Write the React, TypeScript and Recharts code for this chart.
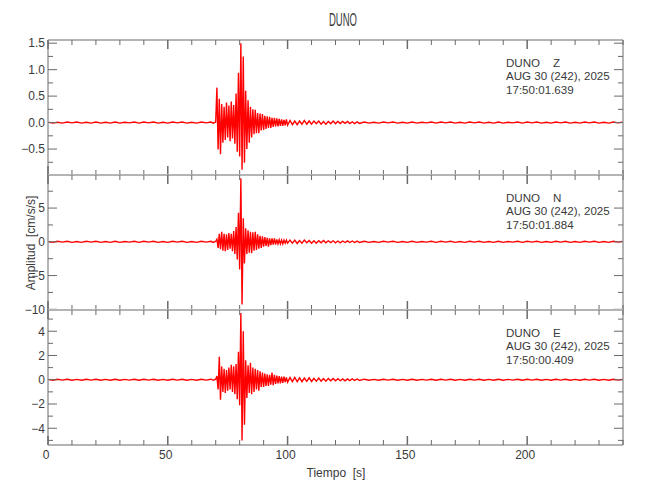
import { Line, LineChart, XAxis, YAxis } from "recharts";

// time base (s), denser around the arrivals
const tSec = [
  0, 2, 4, 6, 8, 10, 12, 14, 16, 18,
  20, 22, 24, 26, 28, 30, 32, 34, 36, 38,
  40, 42, 44, 46, 48, 50, 52, 54, 56, 58,
  60, 62, 64, 66, 68,
  69, 70,
  70.5, 71, 71.5, 72, 72.5, 73, 73.5, 74, 74.5, 75,
  75.5, 76, 76.5, 77, 77.5, 78, 78.5, 79, 79.5, 80,
  80.5, 81, 81.5, 82, 82.5, 83, 83.5, 84, 84.5, 85,
  85.5, 86, 86.5, 87, 87.5, 88, 88.5, 89, 89.5, 90,
  90.5, 91, 91.5, 92, 92.5, 93, 93.5, 94, 94.5, 95,
  95.5, 96, 96.5, 97, 97.5, 98, 98.5, 99, 99.5, 100,
  101, 102, 103, 104, 105, 106, 107, 108, 109, 110,
  111, 112, 113, 114, 115, 116, 117, 118, 119, 120,
  121, 122, 123, 124, 125, 126, 127, 128, 129, 130,
  132, 134, 136, 138, 140, 142, 144, 146, 148, 150,
  152, 154, 156, 158, 160, 162, 164, 166, 168, 170,
  172, 174, 176, 178, 180, 182, 184, 186, 188, 190,
  192, 194, 196, 198, 200, 202, 204, 206, 208, 210,
  212, 214, 216, 218, 220, 222, 224, 226, 228, 230,
  232, 234, 236, 238, 240,
];

const zAmp = [
  0.01, -0.01, 0.005, -0.01, 0.01, -0.005, 0.01, -0.01, 0.005, -0.01,
  0.01, -0.01, 0.005, -0.01, 0.01, -0.01, 0.005, -0.005, 0.01, -0.01,
  0.01, -0.005, 0.01, -0.01, 0.005, -0.01, 0.01, -0.005, 0.01, -0.01,
  0.005, -0.01, 0.01, -0.005, 0.01,
  -0.01, 0.01,
  0.66, -0.51, 0.45, -0.6, 0.35, -0.38, 0.3, -0.33, 0.38, -0.28,
  0.32, -0.35, 0.4, -0.3, 0.33, -0.4, 0.55, -0.55, 0.94, -0.64,
  1.5, -0.89, 1.25, -0.76, 0.6, -0.5, 0.42, -0.38, 0.3, -0.28,
  0.25, -0.22, 0.24, -0.2, 0.18, -0.2, 0.17, -0.15, 0.16, -0.14,
  0.13, -0.12, 0.12, -0.1, 0.11, -0.1, 0.09, -0.08, 0.09, -0.07,
  0.08, -0.07, 0.07, -0.06, 0.06, -0.06, 0.05, -0.05, 0.06, -0.05,
  0.04, -0.04, 0.03, -0.04, 0.03, -0.03, 0.04, -0.03, 0.03, -0.03,
  0.03, -0.02, 0.03, -0.03, 0.02, -0.03, 0.02, -0.02, 0.03, -0.02,
  0.02, -0.02, 0.02, -0.015, 0.02, -0.02, 0.015, -0.02, 0.015, -0.015,
  0.01, -0.01, 0.005, -0.01, 0.01, -0.005, 0.01, -0.01, 0.005, -0.01,
  0.01, -0.01, 0.005, -0.005, 0.01, -0.01, 0.01, -0.005, 0.01, -0.01,
  0.005, -0.01, 0.01, -0.005, 0.01, -0.01, 0.005, -0.01, 0.01, -0.01,
  0.005, -0.005, 0.01, -0.01, 0.01, -0.005, 0.01, -0.01, 0.005, -0.01,
  0.01, -0.005, 0.01, -0.01, 0.005, -0.01, 0.01, -0.005, 0.01, -0.01,
  0.005, -0.01, 0.01, -0.005, 0.01,
];

const nAmp = [
  0.05, -0.08, 0.08, -0.05, 0.08, -0.08, 0.05, -0.08, 0.08, -0.05,
  0.08, -0.08, 0.05, -0.08, 0.08, -0.08, 0.05, -0.05, 0.08, -0.08,
  0.08, -0.05, 0.08, -0.08, 0.05, -0.08, 0.08, -0.05, 0.08, -0.08,
  0.05, -0.08, 0.08, -0.05, 0.08,
  -0.08, 0.08,
  0.4, -0.9, 1.2, -1.1, 1.5, -1.3, 1.2, -1.4, 1.1, -1.2,
  1.3, -1.0, 1.2, -1.4, 1.6, -1.8, 2.2, -2.6, 4.3, -4.1,
  9.4, -9.3, 3.5, -3.2, 2.0, -1.8, 1.7, -1.6, 1.5, -1.7,
  1.4, -1.3, 1.5, -1.2, 1.1, -1.0, 0.9, -0.9, 0.8, -0.7,
  0.7, -0.6, 0.6, -0.7, 0.5, -0.5, 0.5, -0.4, 0.5, -0.4,
  0.35, -0.3, 0.3, -0.3, 0.25, -0.3, 0.25, -0.2, 0.25, -0.2,
  0.25, -0.2, 0.25, -0.25, 0.2, -0.2, 0.25, -0.15, 0.2, -0.2,
  0.15, -0.2, 0.15, -0.15, 0.2, -0.15, 0.15, -0.12, 0.15, -0.15,
  0.12, -0.15, 0.12, -0.1, 0.15, -0.1, 0.12, -0.1, 0.1, -0.1,
  0.08, -0.08, 0.05, -0.08, 0.08, -0.05, 0.08, -0.08, 0.05, -0.08,
  0.08, -0.08, 0.05, -0.05, 0.08, -0.08, 0.08, -0.05, 0.08, -0.08,
  0.05, -0.08, 0.08, -0.05, 0.08, -0.08, 0.05, -0.08, 0.08, -0.08,
  0.05, -0.05, 0.08, -0.08, 0.08, -0.05, 0.08, -0.08, 0.05, -0.08,
  0.08, -0.05, 0.08, -0.08, 0.05, -0.08, 0.08, -0.05, 0.08, -0.08,
  0.05, -0.08, 0.08, -0.05, 0.08,
];

const eAmp = [
  0.03, -0.045, 0.045, -0.03, 0.045, -0.045, 0.03, -0.045, 0.045, -0.03,
  0.045, -0.045, 0.03, -0.045, 0.045, -0.045, 0.03, -0.03, 0.045, -0.045,
  0.045, -0.03, 0.045, -0.045, 0.03, -0.045, 0.045, -0.03, 0.045, -0.045,
  0.03, -0.045, 0.045, -0.03, 0.045,
  -0.045, 0.045,
  0.3, -0.8, 1.9, -1.65, 1.1, -1.0, 0.9, -1.1, 0.8, -0.9,
  1.0, -0.8, 1.24, -1.0, 1.1, -1.2, 1.3, -1.6, 2.3, -2.1,
  5.5, -5.0, 4.0, -3.7, 1.6, -1.5, 1.2, -1.1, 1.4, -1.2,
  1.0, -1.0, 0.9, -0.8, 0.8, -0.9, 0.7, -0.6, 0.6, -0.6,
  0.5, -0.5, 0.45, -0.5, 0.4, -0.4, 0.6, -0.45, 0.4, -0.35,
  0.35, -0.3, 0.3, -0.3, 0.25, -0.25, 0.25, -0.2, 0.2, -0.2,
  0.18, -0.16, 0.2, -0.15, 0.16, -0.16, 0.14, -0.13, 0.16, -0.14,
  0.12, -0.12, 0.14, -0.11, 0.1, -0.12, 0.11, -0.09, 0.1, -0.09,
  0.09, -0.08, 0.07, -0.09, 0.07, -0.07, 0.08, -0.06, 0.06, -0.06,
  0.045, -0.045, 0.03, -0.045, 0.045, -0.03, 0.045, -0.045, 0.03, -0.045,
  0.045, -0.045, 0.03, -0.03, 0.045, -0.045, 0.045, -0.03, 0.045, -0.045,
  0.03, -0.045, 0.045, -0.03, 0.045, -0.045, 0.03, -0.045, 0.045, -0.045,
  0.03, -0.03, 0.045, -0.045, 0.045, -0.03, 0.045, -0.045, 0.03, -0.045,
  0.045, -0.03, 0.045, -0.045, 0.03, -0.045, 0.045, -0.03, 0.045, -0.045,
  0.03, -0.045, 0.045, -0.03, 0.045,
];

const xTicks = [0, 10, 20, 30, 40, 50, 60, 70, 80, 90, 100, 110, 120, 130, 140, 150, 160, 170, 180, 190, 200, 210, 220, 230, 240];
const zTicks = [-0.75, -0.5, -0.25, 0, 0.25, 0.5, 0.75, 1, 1.25, 1.5];
const nTicks = [-10, -7.5, -5, -2.5, 0, 2.5, 5, 7.5];
const eTicks = [-5, -4, -3, -2, -1, 0, 1, 2, 3, 4, 5];

const stationName = "DUNO";
const channels = ["Z", "N", "E"];
const dateLabel = "AUG 30 (242), 2025";
const startTimes = ["17:50:01.639", "17:50:01.884", "17:50:00.409"];

const W = 650;
const H = 500;
const PLOT_LEFT = 48;
const PLOT_RIGHT = 623;
const PANEL_H = 135;
const AX = 20;
const FONT = "'Liberation Sans', Arial, sans-serif";
const FRAME = "#b4b4b4";
const TICK = "#6a6a6a";
const TEXT = "#3a3a3a";
const RED = "#ff0000";

const fmtSigned = (s: string) => s.replace("-", "\u2212");

type Panel = {
  top: number;
  domain: [number, number];
  ticks: number[];
  values: number[];
  isMajor: (v: number) => boolean;
  fmt: (v: number) => string;
};

const panels: Panel[] = [
  {
    top: 40,
    domain: [-0.99, 1.56],
    ticks: zTicks,
    values: zAmp,
    isMajor: (v) => Math.abs(v * 2 - Math.round(v * 2)) < 1e-6,
    fmt: (v) => fmtSigned(v.toFixed(1)),
  },
  {
    top: 175,
    domain: [-10.1, 9.9],
    ticks: nTicks,
    values: nAmp,
    isMajor: (v) => v % 5 === 0,
    fmt: (v) => fmtSigned(String(v)),
  },
  {
    top: 310,
    domain: [-5.38, 5.75],
    ticks: eTicks,
    values: eAmp,
    isMajor: (v) => v % 2 === 0,
    fmt: (v) => fmtSigned(String(v)),
  },
];

const leftTick = (p: Panel) => (props: any) => {
  const { x, y, payload } = props;
  const major = p.isMajor(payload.value);
  return (
    <g>
      <line x1={x} x2={x + (major ? 9 : 5)} y1={y} y2={y} stroke={TICK} />
      {major && (
        <text x={x - 3} y={y} dy="0.36em" textAnchor="end" fill={TEXT} fontSize={12} fontFamily={FONT}>
          {p.fmt(payload.value)}
        </text>
      )}
    </g>
  );
};

const rightTick = (p: Panel) => (props: any) => {
  const { x, y, payload } = props;
  const major = p.isMajor(payload.value);
  return <line x1={x} x2={x - (major ? 9 : 5)} y1={y} y2={y} stroke={TICK} />;
};

const bottomTick = (withLabels: boolean) => (props: any) => {
  const { x, y, payload } = props;
  const major = payload.value % 50 === 0;
  return (
    <g>
      <line x1={x} x2={x} y1={y} y2={y - (major ? 9 : 5)} stroke={TICK} strokeWidth={major ? 1.5 : 1} />
      {withLabels && major && (
        <text x={x - 2} y={y + 14} textAnchor="middle" fill={TEXT} fontSize={12} fontFamily={FONT}>
          {payload.value}
        </text>
      )}
    </g>
  );
};

const topTick = (props: any) => {
  const { x, y, payload } = props;
  const major = payload.value % 50 === 0;
  return <line x1={x} x2={x} y1={y} y2={y + (major ? 9 : 5)} stroke={TICK} strokeWidth={major ? 1.5 : 1} />;
};

function Trace({ p, last }: { p: Panel; last: boolean }) {
  const data = tSec.map((t, i) => ({ t, v: p.values[i] }));
  const axisLine = { stroke: FRAME, strokeWidth: 2 };
  return (
    <div style={{ position: "absolute", left: 0, top: 0 }}>
      <LineChart
        width={W}
        height={H}
        data={data}
        margin={{
          top: p.top - AX,
          bottom: H - p.top - PANEL_H - AX,
          left: PLOT_LEFT - 40,
          right: W - PLOT_RIGHT - AX,
        }}
      >
        <XAxis
          xAxisId="b"
          dataKey="t"
          type="number"
          orientation="bottom"
          domain={[0, 240]}
          allowDataOverflow
          ticks={xTicks}
          height={AX}
          tickSize={0}
          tickMargin={0}
          tickLine={false}
          axisLine={axisLine}
          tick={bottomTick(last)}
          interval={0}
        />
        <XAxis
          xAxisId="t"
          dataKey="t"
          type="number"
          orientation="top"
          domain={[0, 240]}
          allowDataOverflow
          ticks={xTicks}
          height={AX}
          tickSize={0}
          tickMargin={0}
          tickLine={false}
          axisLine={axisLine}
          tick={topTick}
          interval={0}
        />
        <YAxis
          yAxisId="l"
          type="number"
          orientation="left"
          domain={p.domain}
          allowDataOverflow
          ticks={p.ticks}
          width={40}
          tickSize={0}
          tickMargin={0}
          tickLine={false}
          axisLine={axisLine}
          tick={leftTick(p)}
          interval={0}
        />
        <YAxis
          yAxisId="r"
          type="number"
          orientation="right"
          domain={p.domain}
          allowDataOverflow
          ticks={p.ticks}
          width={AX}
          tickSize={0}
          tickMargin={0}
          tickLine={false}
          axisLine={axisLine}
          tick={rightTick(p)}
          interval={0}
        />
        <Line
          xAxisId="b"
          yAxisId="l"
          type="linear"
          dataKey="v"
          stroke={RED}
          strokeWidth={1.4}
          dot={false}
          isAnimationActive={false}
        />
      </LineChart>
    </div>
  );
}

export default function App() {
  return (
    <div
      style={{
        position: "absolute",
        left: 0,
        top: 0,
        width: W,
        height: H,
        background: "#fff",
        fontFamily: FONT,
        overflow: "hidden",
      }}
    >
      {panels.map((p, i) => (
        <Trace key={i} p={p} last={i === panels.length - 1} />
      ))}
      <svg width={W} height={H} style={{ position: "absolute", left: 0, top: 0, pointerEvents: "none" }}>
        <text
          x={343}
          y={26}
          textAnchor="middle"
          fontSize={18}
          fill={TEXT}
          fontFamily={FONT}
          textLength={28}
          lengthAdjust="spacingAndGlyphs"
        >
          {stationName}
        </text>
        {panels.map((p, i) => (
          <g key={i} fontSize={11.6} fill={TEXT} fontFamily={FONT}>
            <text x={506} y={p.top + 27} style={{ whiteSpace: "pre" }}>
              {`${stationName}    ${channels[i]}`}
            </text>
            <text x={506} y={p.top + 40.4}>{dateLabel}</text>
            <text x={506} y={p.top + 53.8}>{startTimes[i]}</text>
          </g>
        ))}
        <text
          x={35}
          y={243}
          transform="rotate(-90 35 243)"
          textAnchor="middle"
          fontSize={12}
          fill={TEXT}
          fontFamily={FONT}
          style={{ whiteSpace: "pre" }}
        >
          {"Amplitud  [cm/s/s]"}
        </text>
        <text
          x={336}
          y={476.5}
          textAnchor="middle"
          fontSize={12}
          fill={TEXT}
          fontFamily={FONT}
          style={{ whiteSpace: "pre" }}
        >
          {"Tiempo  [s]"}
        </text>
      </svg>
    </div>
  );
}
